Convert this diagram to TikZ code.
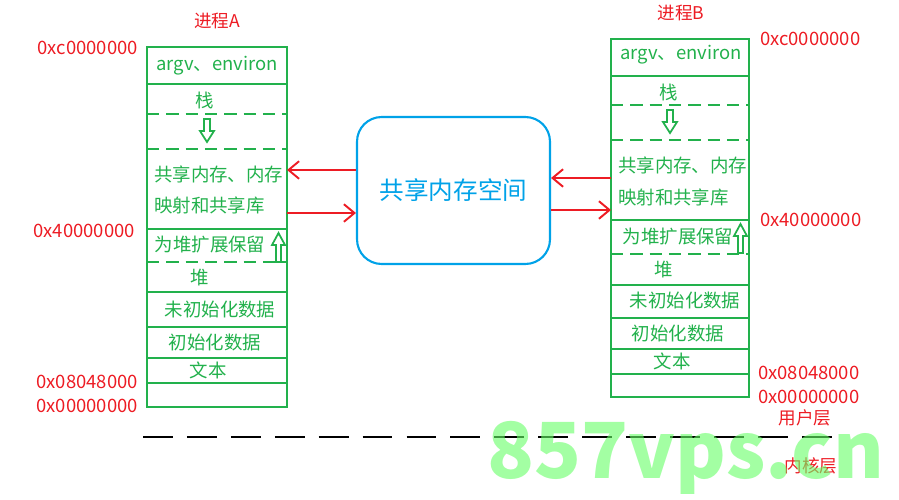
\documentclass[tikz,border=0pt]{standalone}
\usepackage{fontspec}
\setmainfont{Noto Sans CJK SC}
\usetikzlibrary{positioning,arrows.meta}
\definecolor{memgreen}{RGB}{34,177,76}
\definecolor{addrred}{RGB}{237,28,36}
\definecolor{spaceblue}{RGB}{0,162,232}
\begin{document}
\begin{tikzpicture}[x=0.02cm,y=-0.02cm]
  \tikzstyle{solidline}=[memgreen, line width=1.5pt]
  \tikzstyle{dashline}=[memgreen, line width=1.5pt, dash pattern=on 7pt off 4pt]
  \tikzstyle{seg}=[memgreen, font=\fontsize{10.5}{12}\selectfont, inner sep=1pt]
  \tikzstyle{addr}=[addrred, font=\fontsize{10.5}{12}\selectfont, inner sep=1pt]
  \tikzstyle{title}=[addrred, font=\fontsize{10}{11}\selectfont]
  \tikzstyle{connect}=[addrred, line width=1.1pt, -{Straight Barb[length=6pt,width=10pt]}]
  \tikzstyle{hollow}=[memgreen, line width=1pt, fill=white]

  \useasboundingbox (0,0) rectangle (899,500);

  % process A
  \draw[solidline] (147,47) rectangle (287,407);
  \foreach \y in {84,229,292,327,358,383} \draw[solidline] (147,\y) -- (287,\y);
  \foreach \y in {114,149,262} \draw[dashline] (147,\y) -- (287,\y);
  \node[title] (ta) at (217,21) {进程A};
  \node[seg] (a1) at (217,66) {argv、environ};
  \node[seg] (a2) at (205,100) {栈};
  \node[seg, anchor=west] (a3) at (152,174) {共享内存、内存};
  \node[seg, anchor=west] (a4) at (152,205) {映射和共享库};
  \node[seg] (a5) at (210,245) {为堆扩展保留};
  \node[seg] (a6) at (200,278) {堆};
  \node[seg] (a7) at (220,310) {未初始化数据};
  \node[seg] (a8) at (215,343) {初始化数据};
  \node[seg] (a9) at (208,370) {文本};
  \draw[hollow] (204,119) -- (210,119) -- (210,131) -- (214,131) -- (207,142) -- (200,131) -- (204,131) -- cycle;
  \draw[hollow] (276,262) -- (281,262) -- (281,245) -- (285,245) -- (278.5,233) -- (272,245) -- (276,245) -- cycle;
  \node[addr, anchor=east] (aa1) at (140,48) {0xc0000000};
  \node[addr, anchor=east] (aa2) at (137,231) {0x40000000};
  \node[addr, anchor=east] (aa3) at (140,382) {0x08048000};
  \node[addr, anchor=east] (aa4) at (140,406) {0x00000000};

  % process B
  \draw[solidline] (611,39) rectangle (749,397);
  \foreach \y in {76,220,285,318,349,374} \draw[solidline] (611,\y) -- (749,\y);
  \foreach \y in {105,140,254} \draw[dashline] (611,\y) -- (749,\y);
  \node[title] (tb) at (681,13) {进程B};
  \node[seg] (b1) at (681,55) {argv、environ};
  \node[seg] (b2) at (669,92) {栈};
  \node[seg, anchor=west] (b3) at (616,165) {共享内存、内存};
  \node[seg, anchor=west] (b4) at (616,197) {映射和共享库};
  \node[seg] (b5) at (678,237) {为堆扩展保留};
  \node[seg] (b6) at (664,270) {堆};
  \node[seg] (b7) at (685,301) {未初始化数据};
  \node[seg] (b8) at (678,334) {初始化数据};
  \node[seg] (b9) at (672,361) {文本};
  \draw[hollow] (667,110) -- (673,110) -- (673,122) -- (677,122) -- (670,133) -- (663,122) -- (667,122) -- cycle;
  \draw[hollow] (738,253) -- (743,253) -- (743,236) -- (747,236) -- (740.5,224) -- (734,236) -- (738,236) -- cycle;
  \node[addr, anchor=west] (ba1) at (758,39) {0xc0000000};
  \node[addr, anchor=west] (ba2) at (758,220) {0x40000000};
  \node[addr, anchor=west] (ba3) at (756,373) {0x08048000};
  \node[addr, anchor=west] (ba4) at (756,397) {0x00000000};

  % shared space
  \node[draw=spaceblue, line width=1.2pt, rounded corners=14pt, minimum width=3.86cm, minimum height=2.94cm,
        text=spaceblue, font=\fontsize{14}{16}\selectfont] (shm) at (453.5,190.5) {共享内存空间};
  \coordinate (pa1) at (287,170);
  \coordinate (pa2) at (287,213);
  \coordinate (pb1) at (611,178);
  \coordinate (pb2) at (611,210);
  \draw[connect] (shm.west |- pa1) -- (pa1);
  \draw[connect] (pa2) -- (shm.west |- pa2);
  \draw[connect] (pb1) -- (shm.east |- pb1);
  \draw[connect] (shm.east |- pb2) -- (pb2);

  % user / kernel boundary
  \coordinate (ul) at (143,437);
  \coordinate (ur) at (840,437);
  \draw[line width=1.6pt, dash pattern=on 17pt off 8pt] (ul) -- (ur);
  \node[title] (user) at (805,418) {用户层};
  \node[title] (kernel) at (811,466) {内核层};
  \node[text=green!60!white, opacity=0.6, font=\fontsize{44}{48}\selectfont\bfseries] (mark) at (686,458) {857vps.cn};
\end{tikzpicture}
\end{document}
